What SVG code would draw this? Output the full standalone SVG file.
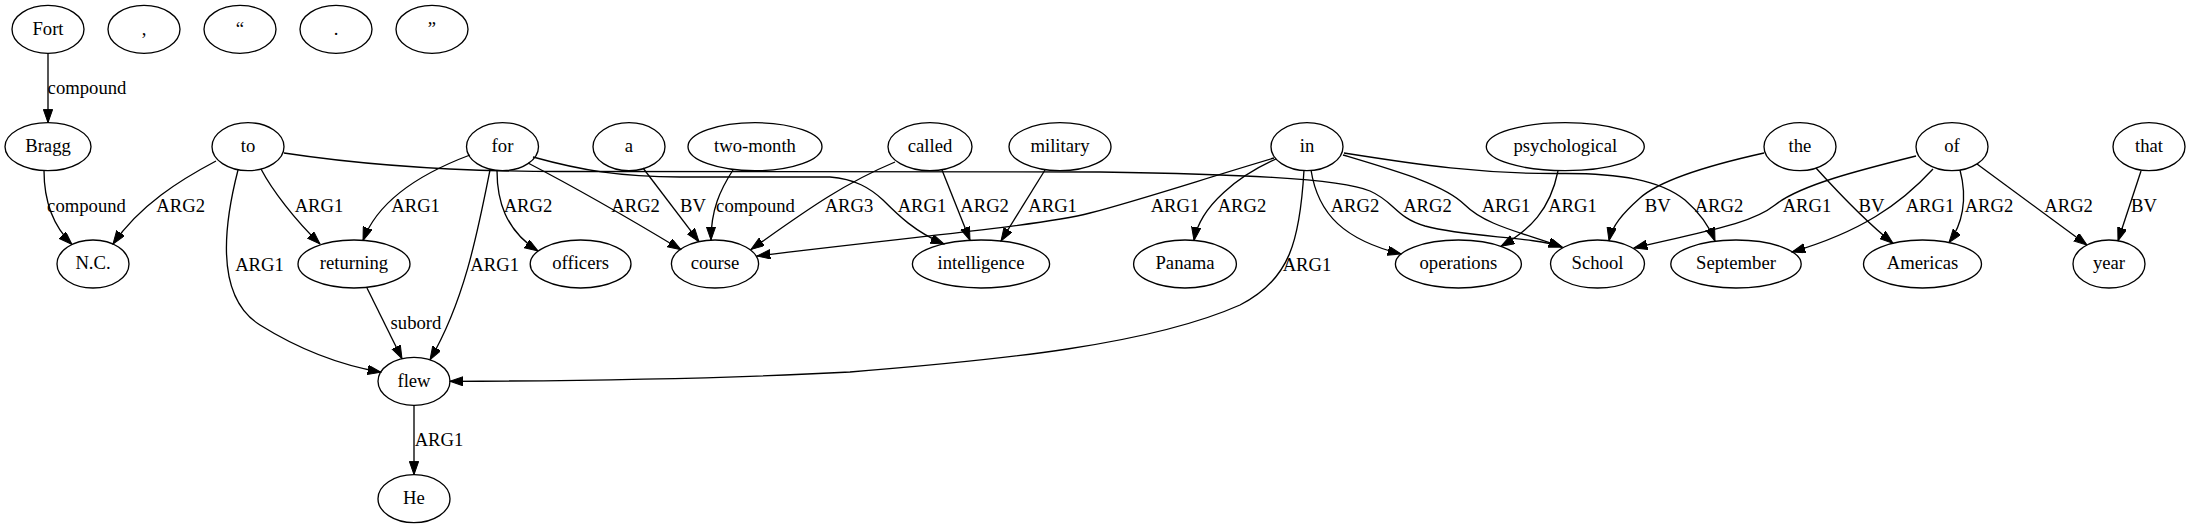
<svg xmlns="http://www.w3.org/2000/svg" width="2191" height="528" viewBox="0 0 2191 528">
<style>
.node ellipse{fill:none;stroke:#000;stroke-width:1.33}
text{font-family:'Liberation Serif','Times New Roman',serif;font-size:18.67px;text-anchor:middle;fill:#000}
.edges path{fill:none;stroke:#000;stroke-width:1.33;marker-end:url(#arr)}
</style>
<defs>
<marker id="arr" markerUnits="userSpaceOnUse" markerWidth="14" markerHeight="10" viewBox="0 0 14 10" refX="13.3" refY="4.67" orient="auto"><path d="M0,0 L13.3,4.67 L0,9.33 z" fill="#000" stroke="#000" stroke-width="1"/></marker>
</defs>
<rect width="2191" height="528" fill="#fff"/>
<g id="edges" class="edges">
<g id="e-Fort-Bragg"><path d="M48,53.3 L48,122.7"/><text x="87" y="94.2">compound</text></g>
<g id="e-Bragg-NC"><path d="M44,170.6 C44,200 52,225 72,244.5"/><text x="86.5" y="211.5">compound</text></g>
<g id="e-to-NC"><path d="M216,161 C180,180 140,205 113,244"/><text x="180.7" y="211.5">ARG2</text></g>
<g id="e-to-returning"><path d="M261,169 C272,190 295,220 320,244"/><text x="319" y="211.5">ARG1</text></g>
<g id="e-to-flew"><path d="M238,170 C220,240 220,300 260,325 C300,350 340,365 381,372.2"/><text x="259.5" y="270.5">ARG1</text></g>
<g id="e-to-School"><path d="M284,153 C370,166 470,171.5 560,171.5 L1100,172 C1230,174 1340,178 1370,191 C1395,202 1395,217 1425,226 C1470,238 1530,236 1562,247"/><text x="1427.5" y="211.5">ARG2</text></g>
<g id="e-for-returning"><path d="M470,155 C430,170 380,195 363,240.5"/><text x="415.6" y="211.5">ARG1</text></g>
<g id="e-for-officers"><path d="M497,170.5 C497,200 505,230 538,251"/><text x="528" y="211.5">ARG2</text></g>
<g id="e-for-flew"><path d="M490,170 C478,230 465,300 430,359.8"/><text x="494.7" y="270.5">ARG1</text></g>
<g id="e-for-course"><path d="M528,163 C580,190 640,225 681,249.7"/><text x="635.6" y="211.5">ARG2</text></g>
<g id="e-for-intelligence"><path d="M533,157 C580,170 620,177 680,177 L830,177 C855,179 870,188 883,200 C898,215 915,232 944,244"/><text x="922" y="211.5">ARG1</text></g>
<g id="e-a-course"><path d="M643,168 L699,241.7"/><text x="693" y="211.5">BV</text></g>
<g id="e-twomonth-course"><path d="M733,170 C720,190 711,210 711,240"/><text x="755.5" y="211.5">compound</text></g>
<g id="e-called-course"><path d="M895,162 C840,185 800,215 751,249.5"/><text x="849" y="211.5">ARG3</text></g>
<g id="e-called-intelligence"><path d="M942,170 L970,240.3"/><text x="984.6" y="211.5">ARG2</text></g>
<g id="e-military-intelligence"><path d="M1045,170 L1001,241"/><text x="1052.6" y="211.5">ARG1</text></g>
<g id="e-in-course"><path d="M1274,158 C1200,180 1140,200 1090,213 C1040,226 900,238 757,256"/><text x="1175" y="211.5">ARG1</text></g>
<g id="e-in-Panama"><path d="M1276,159 C1240,175 1200,205 1194,240.4"/><text x="1242" y="211.5">ARG2</text></g>
<g id="e-in-flew"><path d="M1304,170 C1300,240 1290,280 1240,305 C1150,345 1000,360 850,372 C700,380 560,381 450,381.3"/><text x="1307" y="270.5">ARG1</text></g>
<g id="e-in-operations"><path d="M1311,170 C1318,215 1345,240 1401,254"/><text x="1355" y="211.5">ARG2</text></g>
<g id="e-in-School"><path d="M1343,155 C1400,172 1445,185 1465,205 C1485,225 1520,232 1562,247"/><text x="1506" y="211.5">ARG1</text></g>
<g id="e-in-September"><path d="M1344,153 C1420,165 1480,174 1560,173.5 C1620,173 1660,180 1685,200 C1700,213 1710,228 1715,241"/><text x="1719" y="211.5">ARG2</text></g>
<g id="e-psychological-operations"><path d="M1558,171 C1550,210 1530,230 1501,246.3"/><text x="1572.5" y="211.5">ARG1</text></g>
<g id="e-the-School"><path d="M1764,153 C1710,165 1660,180 1640,198 C1622,214 1612,226 1609,240.7"/><text x="1657.7" y="211.5">BV</text></g>
<g id="e-the-Americas"><path d="M1816,168 C1845,200 1870,225 1893,243.2"/><text x="1871.5" y="211.5">BV</text></g>
<g id="e-of-School"><path d="M1916,156 C1860,170 1800,185 1775,205 C1750,225 1700,232 1634,248"/><text x="1807" y="211.5">ARG1</text></g>
<g id="e-of-September"><path d="M1933,169 C1900,205 1860,232 1792,252"/><text x="1930" y="211.5">ARG1</text></g>
<g id="e-of-Americas"><path d="M1960,170 C1968,200 1962,225 1949,242.6"/><text x="1989" y="211.5">ARG2</text></g>
<g id="e-of-year"><path d="M1977,164 L2087,245"/><text x="2068.6" y="211.5">ARG2</text></g>
<g id="e-that-year"><path d="M2141,171 L2118,240.8"/><text x="2144" y="211.5">BV</text></g>
<g id="e-returning-flew"><path d="M367,288 L402,358.7"/><text x="416" y="328.8">subord</text></g>
<g id="e-flew-He"><path d="M414,405.3 L414,474.7"/><text x="439" y="446">ARG1</text></g>
</g>
<g id="n-Fort" class="node"><ellipse cx="48" cy="29.3" rx="36" ry="24"/><text x="48" y="34.6">Fort</text></g>
<g id="n-comma" class="node"><ellipse cx="144" cy="29.3" rx="36" ry="24"/><text x="144" y="34.6">,</text></g>
<g id="n-lquote" class="node"><ellipse cx="240" cy="29.3" rx="36" ry="24"/><text x="240" y="34.6">“</text></g>
<g id="n-period" class="node"><ellipse cx="336" cy="29.3" rx="36" ry="24"/><text x="336" y="34.6">.</text></g>
<g id="n-rquote" class="node"><ellipse cx="432" cy="29.3" rx="36" ry="24"/><text x="432" y="34.6">”</text></g>
<g id="n-Bragg" class="node"><ellipse cx="48" cy="146.7" rx="43" ry="24"/><text x="48" y="152">Bragg</text></g>
<g id="n-to" class="node"><ellipse cx="248" cy="146.7" rx="36" ry="24"/><text x="248" y="152">to</text></g>
<g id="n-for" class="node"><ellipse cx="502.5" cy="146.7" rx="36" ry="24"/><text x="502.5" y="152">for</text></g>
<g id="n-a" class="node"><ellipse cx="629" cy="146.7" rx="36" ry="24"/><text x="629" y="152">a</text></g>
<g id="n-two-month" class="node"><ellipse cx="755" cy="146.7" rx="67" ry="24"/><text x="755" y="152">two-month</text></g>
<g id="n-called" class="node"><ellipse cx="930" cy="146.7" rx="42" ry="24"/><text x="930" y="152">called</text></g>
<g id="n-military" class="node"><ellipse cx="1060" cy="146.7" rx="51" ry="24"/><text x="1060" y="152">military</text></g>
<g id="n-in" class="node"><ellipse cx="1307" cy="146.7" rx="36" ry="24"/><text x="1307" y="152">in</text></g>
<g id="n-psychological" class="node"><ellipse cx="1565.3" cy="146.7" rx="79" ry="24"/><text x="1565.3" y="152">psychological</text></g>
<g id="n-the" class="node"><ellipse cx="1800" cy="146.7" rx="36" ry="24"/><text x="1800" y="152">the</text></g>
<g id="n-of" class="node"><ellipse cx="1952" cy="146.7" rx="36" ry="24"/><text x="1952" y="152">of</text></g>
<g id="n-that" class="node"><ellipse cx="2149" cy="146.7" rx="36" ry="24"/><text x="2149" y="152">that</text></g>
<g id="n-NC" class="node"><ellipse cx="93" cy="264" rx="36" ry="24"/><text x="93" y="269.3">N.C.</text></g>
<g id="n-returning" class="node"><ellipse cx="354" cy="264" rx="56" ry="24"/><text x="354" y="269.3">returning</text></g>
<g id="n-officers" class="node"><ellipse cx="580.6" cy="264" rx="50.4" ry="24"/><text x="580.6" y="269.3">officers</text></g>
<g id="n-course" class="node"><ellipse cx="715" cy="264" rx="43.6" ry="24"/><text x="715" y="269.3">course</text></g>
<g id="n-intelligence" class="node"><ellipse cx="981" cy="264" rx="68.6" ry="24"/><text x="981" y="269.3">intelligence</text></g>
<g id="n-Panama" class="node"><ellipse cx="1185" cy="264" rx="51.4" ry="24"/><text x="1185" y="269.3">Panama</text></g>
<g id="n-operations" class="node"><ellipse cx="1458.4" cy="264" rx="63" ry="24"/><text x="1458.4" y="269.3">operations</text></g>
<g id="n-School" class="node"><ellipse cx="1597.5" cy="264" rx="47" ry="24"/><text x="1597.5" y="269.3">School</text></g>
<g id="n-September" class="node"><ellipse cx="1736" cy="264" rx="65.2" ry="24"/><text x="1736" y="269.3">September</text></g>
<g id="n-Americas" class="node"><ellipse cx="1922.5" cy="264" rx="59" ry="24"/><text x="1922.5" y="269.3">Americas</text></g>
<g id="n-year" class="node"><ellipse cx="2109" cy="264" rx="36" ry="24"/><text x="2109" y="269.3">year</text></g>
<g id="n-flew" class="node"><ellipse cx="414" cy="381.3" rx="36" ry="24"/><text x="414" y="386.6">flew</text></g>
<g id="n-He" class="node"><ellipse cx="414" cy="498.7" rx="36" ry="24"/><text x="414" y="504">He</text></g>
</svg>
